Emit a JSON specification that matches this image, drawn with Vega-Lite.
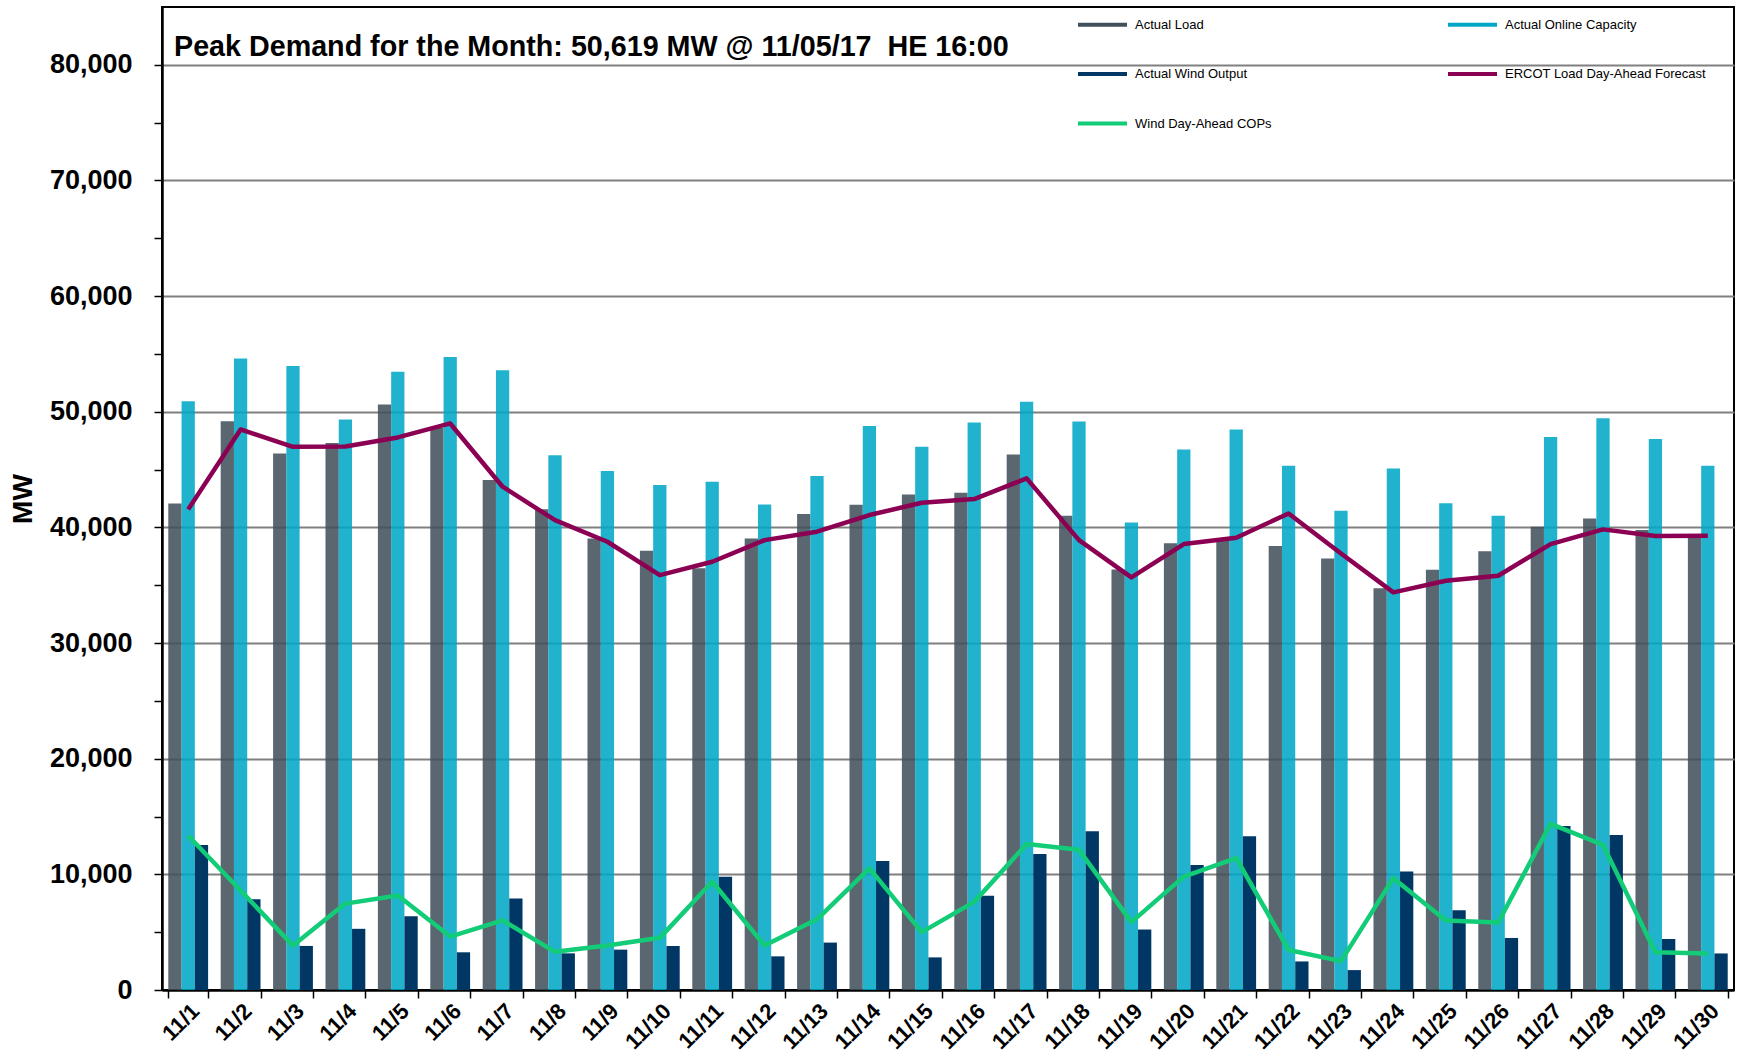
{
  "$schema": "https://vega.github.io/schema/vega-lite/v6.json",
  "autosize": "none",
  "width": 1572,
  "height": 983,
  "padding": {"left": 162, "top": 7, "right": 4, "bottom": 67},
  "background": "white",
  "title": {
    "text": "Peak Demand for the Month: 50,619 MW @ 11/05/17\u00a0 HE 16:00",
    "anchor": "start",
    "frame": "group",
    "font": "Liberation Sans",
    "fontSize": 28.7,
    "fontWeight": "bold",
    "color": "#000000",
    "baseline": "alphabetic",
    "offset": -87,
    "dx": 12
  },
  "config": {
    "view": {"stroke": "#000000", "strokeWidth": 2},
    "axis": {"labelColor": "#000000", "titleColor": "#000000", "domainColor": "#000000", "tickColor": "#000000"}
  },
  "data": {
    "values": [
      {"day": "11/1", "series": "Actual Load", "MW": 42075},
      {"day": "11/1", "series": "Actual Online Capacity", "MW": 50920},
      {"day": "11/1", "series": "Actual Wind Output", "MW": 12530},
      {"day": "11/1", "series": "ERCOT Load Day-Ahead Forecast", "MW": 41560},
      {"day": "11/1", "series": "Wind Day-Ahead COPs", "MW": 13340},
      {"day": "11/2", "series": "Actual Load", "MW": 49190},
      {"day": "11/2", "series": "Actual Online Capacity", "MW": 54610},
      {"day": "11/2", "series": "Actual Wind Output", "MW": 7850},
      {"day": "11/2", "series": "ERCOT Load Day-Ahead Forecast", "MW": 48470},
      {"day": "11/2", "series": "Wind Day-Ahead COPs", "MW": 8600},
      {"day": "11/3", "series": "Actual Load", "MW": 46400},
      {"day": "11/3", "series": "Actual Online Capacity", "MW": 53950},
      {"day": "11/3", "series": "Actual Wind Output", "MW": 3810},
      {"day": "11/3", "series": "ERCOT Load Day-Ahead Forecast", "MW": 46970},
      {"day": "11/3", "series": "Wind Day-Ahead COPs", "MW": 3840},
      {"day": "11/4", "series": "Actual Load", "MW": 47290},
      {"day": "11/4", "series": "Actual Online Capacity", "MW": 49340},
      {"day": "11/4", "series": "Actual Wind Output", "MW": 5290},
      {"day": "11/4", "series": "ERCOT Load Day-Ahead Forecast", "MW": 47000},
      {"day": "11/4", "series": "Wind Day-Ahead COPs", "MW": 7470},
      {"day": "11/5", "series": "Actual Load", "MW": 50619},
      {"day": "11/5", "series": "Actual Online Capacity", "MW": 53460},
      {"day": "11/5", "series": "Actual Wind Output", "MW": 6370},
      {"day": "11/5", "series": "ERCOT Load Day-Ahead Forecast", "MW": 47780},
      {"day": "11/5", "series": "Wind Day-Ahead COPs", "MW": 8170},
      {"day": "11/6", "series": "Actual Load", "MW": 48600},
      {"day": "11/6", "series": "Actual Online Capacity", "MW": 54730},
      {"day": "11/6", "series": "Actual Wind Output", "MW": 3260},
      {"day": "11/6", "series": "ERCOT Load Day-Ahead Forecast", "MW": 48990},
      {"day": "11/6", "series": "Wind Day-Ahead COPs", "MW": 4620},
      {"day": "11/7", "series": "Actual Load", "MW": 44090},
      {"day": "11/7", "series": "Actual Online Capacity", "MW": 53600},
      {"day": "11/7", "series": "Actual Wind Output", "MW": 7910},
      {"day": "11/7", "series": "ERCOT Load Day-Ahead Forecast", "MW": 43520},
      {"day": "11/7", "series": "Wind Day-Ahead COPs", "MW": 6020},
      {"day": "11/8", "series": "Actual Load", "MW": 41560},
      {"day": "11/8", "series": "Actual Online Capacity", "MW": 46250},
      {"day": "11/8", "series": "Actual Wind Output", "MW": 3170},
      {"day": "11/8", "series": "ERCOT Load Day-Ahead Forecast", "MW": 40630},
      {"day": "11/8", "series": "Wind Day-Ahead COPs", "MW": 3300},
      {"day": "11/9", "series": "Actual Load", "MW": 39050},
      {"day": "11/9", "series": "Actual Online Capacity", "MW": 44870},
      {"day": "11/9", "series": "Actual Wind Output", "MW": 3490},
      {"day": "11/9", "series": "ERCOT Load Day-Ahead Forecast", "MW": 38760},
      {"day": "11/9", "series": "Wind Day-Ahead COPs", "MW": 3840},
      {"day": "11/10", "series": "Actual Load", "MW": 37980},
      {"day": "11/10", "series": "Actual Online Capacity", "MW": 43660},
      {"day": "11/10", "series": "Actual Wind Output", "MW": 3810},
      {"day": "11/10", "series": "ERCOT Load Day-Ahead Forecast", "MW": 35880},
      {"day": "11/10", "series": "Wind Day-Ahead COPs", "MW": 4510},
      {"day": "11/11", "series": "Actual Load", "MW": 36460},
      {"day": "11/11", "series": "Actual Online Capacity", "MW": 43950},
      {"day": "11/11", "series": "Actual Wind Output", "MW": 9800},
      {"day": "11/11", "series": "ERCOT Load Day-Ahead Forecast", "MW": 37030},
      {"day": "11/11", "series": "Wind Day-Ahead COPs", "MW": 9360},
      {"day": "11/12", "series": "Actual Load", "MW": 39050},
      {"day": "11/12", "series": "Actual Online Capacity", "MW": 41990},
      {"day": "11/12", "series": "Actual Wind Output", "MW": 2910},
      {"day": "11/12", "series": "ERCOT Load Day-Ahead Forecast", "MW": 38900},
      {"day": "11/12", "series": "Wind Day-Ahead COPs", "MW": 3840},
      {"day": "11/13", "series": "Actual Load", "MW": 41150},
      {"day": "11/13", "series": "Actual Online Capacity", "MW": 44440},
      {"day": "11/13", "series": "Actual Wind Output", "MW": 4100},
      {"day": "11/13", "series": "ERCOT Load Day-Ahead Forecast", "MW": 39630},
      {"day": "11/13", "series": "Wind Day-Ahead COPs", "MW": 6110},
      {"day": "11/14", "series": "Actual Load", "MW": 41960},
      {"day": "11/14", "series": "Actual Online Capacity", "MW": 48760},
      {"day": "11/14", "series": "Actual Wind Output", "MW": 11160},
      {"day": "11/14", "series": "ERCOT Load Day-Ahead Forecast", "MW": 41070},
      {"day": "11/14", "series": "Wind Day-Ahead COPs", "MW": 10520},
      {"day": "11/15", "series": "Actual Load", "MW": 42850},
      {"day": "11/15", "series": "Actual Online Capacity", "MW": 46970},
      {"day": "11/15", "series": "Actual Wind Output", "MW": 2820},
      {"day": "11/15", "series": "ERCOT Load Day-Ahead Forecast", "MW": 42130},
      {"day": "11/15", "series": "Wind Day-Ahead COPs", "MW": 5000},
      {"day": "11/16", "series": "Actual Load", "MW": 43000},
      {"day": "11/16", "series": "Actual Online Capacity", "MW": 49080},
      {"day": "11/16", "series": "Actual Wind Output", "MW": 8140},
      {"day": "11/16", "series": "ERCOT Load Day-Ahead Forecast", "MW": 42450},
      {"day": "11/16", "series": "Wind Day-Ahead COPs", "MW": 7620},
      {"day": "11/17", "series": "Actual Load", "MW": 46310},
      {"day": "11/17", "series": "Actual Online Capacity", "MW": 50870},
      {"day": "11/17", "series": "Actual Wind Output", "MW": 11770},
      {"day": "11/17", "series": "ERCOT Load Day-Ahead Forecast", "MW": 44240},
      {"day": "11/17", "series": "Wind Day-Ahead COPs", "MW": 12620},
      {"day": "11/18", "series": "Actual Load", "MW": 41010},
      {"day": "11/18", "series": "Actual Online Capacity", "MW": 49160},
      {"day": "11/18", "series": "Actual Wind Output", "MW": 13720},
      {"day": "11/18", "series": "ERCOT Load Day-Ahead Forecast", "MW": 38900},
      {"day": "11/18", "series": "Wind Day-Ahead COPs", "MW": 12120},
      {"day": "11/19", "series": "Actual Load", "MW": 36370},
      {"day": "11/19", "series": "Actual Online Capacity", "MW": 40430},
      {"day": "11/19", "series": "Actual Wind Output", "MW": 5230},
      {"day": "11/19", "series": "ERCOT Load Day-Ahead Forecast", "MW": 35680},
      {"day": "11/19", "series": "Wind Day-Ahead COPs", "MW": 5870},
      {"day": "11/20", "series": "Actual Load", "MW": 38620},
      {"day": "11/20", "series": "Actual Online Capacity", "MW": 46740},
      {"day": "11/20", "series": "Actual Wind Output", "MW": 10810},
      {"day": "11/20", "series": "ERCOT Load Day-Ahead Forecast", "MW": 38560},
      {"day": "11/20", "series": "Wind Day-Ahead COPs", "MW": 9800},
      {"day": "11/21", "series": "Actual Load", "MW": 38950},
      {"day": "11/21", "series": "Actual Online Capacity", "MW": 48470},
      {"day": "11/21", "series": "Actual Wind Output", "MW": 13290},
      {"day": "11/21", "series": "ERCOT Load Day-Ahead Forecast", "MW": 39110},
      {"day": "11/21", "series": "Wind Day-Ahead COPs", "MW": 11400},
      {"day": "11/22", "series": "Actual Load", "MW": 38390},
      {"day": "11/22", "series": "Actual Online Capacity", "MW": 45330},
      {"day": "11/22", "series": "Actual Wind Output", "MW": 2470},
      {"day": "11/22", "series": "ERCOT Load Day-Ahead Forecast", "MW": 41210},
      {"day": "11/22", "series": "Wind Day-Ahead COPs", "MW": 3460},
      {"day": "11/23", "series": "Actual Load", "MW": 37320},
      {"day": "11/23", "series": "Actual Online Capacity", "MW": 41440},
      {"day": "11/23", "series": "Actual Wind Output", "MW": 1720},
      {"day": "11/23", "series": "ERCOT Load Day-Ahead Forecast", "MW": 37750},
      {"day": "11/23", "series": "Wind Day-Ahead COPs", "MW": 2500},
      {"day": "11/24", "series": "Actual Load", "MW": 34730},
      {"day": "11/24", "series": "Actual Online Capacity", "MW": 45100},
      {"day": "11/24", "series": "Actual Wind Output", "MW": 10250},
      {"day": "11/24", "series": "ERCOT Load Day-Ahead Forecast", "MW": 34380},
      {"day": "11/24", "series": "Wind Day-Ahead COPs", "MW": 9670},
      {"day": "11/25", "series": "Actual Load", "MW": 36340},
      {"day": "11/25", "series": "Actual Online Capacity", "MW": 42080},
      {"day": "11/25", "series": "Actual Wind Output", "MW": 6900},
      {"day": "11/25", "series": "ERCOT Load Day-Ahead Forecast", "MW": 35390},
      {"day": "11/25", "series": "Wind Day-Ahead COPs", "MW": 6000},
      {"day": "11/26", "series": "Actual Load", "MW": 37930},
      {"day": "11/26", "series": "Actual Online Capacity", "MW": 41010},
      {"day": "11/26", "series": "Actual Wind Output", "MW": 4500},
      {"day": "11/26", "series": "ERCOT Load Day-Ahead Forecast", "MW": 35820},
      {"day": "11/26", "series": "Wind Day-Ahead COPs", "MW": 5840},
      {"day": "11/27", "series": "Actual Load", "MW": 40060},
      {"day": "11/27", "series": "Actual Online Capacity", "MW": 47810},
      {"day": "11/27", "series": "Actual Wind Output", "MW": 14180},
      {"day": "11/27", "series": "ERCOT Load Day-Ahead Forecast", "MW": 38560},
      {"day": "11/27", "series": "Wind Day-Ahead COPs", "MW": 14370},
      {"day": "11/28", "series": "Actual Load", "MW": 40780},
      {"day": "11/28", "series": "Actual Online Capacity", "MW": 49450},
      {"day": "11/28", "series": "Actual Wind Output", "MW": 13410},
      {"day": "11/28", "series": "ERCOT Load Day-Ahead Forecast", "MW": 39830},
      {"day": "11/28", "series": "Wind Day-Ahead COPs", "MW": 12550},
      {"day": "11/29", "series": "Actual Load", "MW": 39770},
      {"day": "11/29", "series": "Actual Online Capacity", "MW": 47640},
      {"day": "11/29", "series": "Actual Wind Output", "MW": 4410},
      {"day": "11/29", "series": "ERCOT Load Day-Ahead Forecast", "MW": 39250},
      {"day": "11/29", "series": "Wind Day-Ahead COPs", "MW": 3260},
      {"day": "11/30", "series": "Actual Load", "MW": 39190},
      {"day": "11/30", "series": "Actual Online Capacity", "MW": 45330},
      {"day": "11/30", "series": "Actual Wind Output", "MW": 3160},
      {"day": "11/30", "series": "ERCOT Load Day-Ahead Forecast", "MW": 39280},
      {"day": "11/30", "series": "Wind Day-Ahead COPs", "MW": 3160}
    ]
  },
  "encoding": {
    "x": {
      "field": "day",
      "type": "ordinal",
      "sort": null,
      "scale": {"paddingInner": 0.24, "paddingOuter": 0.12},
      "axis": {
        "title": null,
        "labelAngle": -45,
        "labelFont": "Liberation Sans",
        "labelFontSize": 22,
        "labelFontWeight": "bold",
        "labelPadding": 2,
        "tickBand": "extent",
        "tickSize": 8,
        "tickWidth": 1.5,
        "domainWidth": 2.5,
        "grid": false
      }
    },
    "y": {
      "field": "MW",
      "type": "quantitative",
      "scale": {"domain": [0, 85000], "nice": false},
      "axis": {
        "title": "MW",
        "titleFont": "Liberation Sans",
        "titleFontSize": 28,
        "titleFontWeight": "bold",
        "titlePadding": 12,
        "values": [0, 5000, 10000, 15000, 20000, 25000, 30000, 35000, 40000, 45000, 50000, 55000, 60000, 65000, 70000, 75000, 80000],
        "labelExpr": "datum.value % 10000 === 0 ? format(datum.value, ',') : ''",
        "labelFont": "Liberation Sans",
        "labelFontSize": 27,
        "labelFontWeight": "bold",
        "labelPadding": 22,
        "tickSize": 8,
        "tickWidth": 1.5,
        "domainWidth": 2.5,
        "grid": true,
        "gridColor": "#808080",
        "gridWidth": 2,
        "gridOpacity": {"condition": {"test": "datum.value % 10000 === 0 && datum.value > 0", "value": 1}, "value": 0}
      }
    },
    "color": {
      "field": "series",
      "type": "nominal",
      "scale": {
        "domain": ["Actual Load", "Actual Online Capacity", "Actual Wind Output", "ERCOT Load Day-Ahead Forecast", "Wind Day-Ahead COPs"],
        "range": ["#414F5B", "#00A7C7", "#003764", "#8B0052", "#12CC78"]
      },
      "legend": {
        "title": null,
        "orient": "none",
        "direction": "horizontal",
        "legendX": 914,
        "legendY": -9,
        "columns": 2,
        "padding": 0,
        "symbolType": "stroke",
        "symbolSize": 2401,
        "symbolStrokeWidth": 4,
        "labelFont": "Liberation Sans",
        "labelFontSize": 13,
        "labelColor": "#000000",
        "labelOffset": 6,
        "rowPadding": 14.5,
        "columnPadding": 168,
        "labelLimit": 400
      }
    }
  },
  "layer": [
    {
      "transform": [{"filter": "datum.series === 'Actual Load' || datum.series === 'Actual Online Capacity' || datum.series === 'Actual Wind Output'"}],
      "mark": {"type": "bar"},
      "encoding": {
        "xOffset": {"field": "series", "type": "nominal", "scale": {"domain": ["Actual Load", "Actual Online Capacity", "Actual Wind Output"], "paddingInner": 0, "paddingOuter": 0}},
        "opacity": {"condition": {"test": "datum.series === 'Actual Wind Output'", "value": 1}, "value": 0.87}
      }
    },
    {
      "transform": [{"filter": "datum.series === 'ERCOT Load Day-Ahead Forecast' || datum.series === 'Wind Day-Ahead COPs'"}],
      "mark": {"type": "line", "strokeWidth": 4.5, "strokeJoin": "round"},
      "encoding": {}
    }
  ]
}
